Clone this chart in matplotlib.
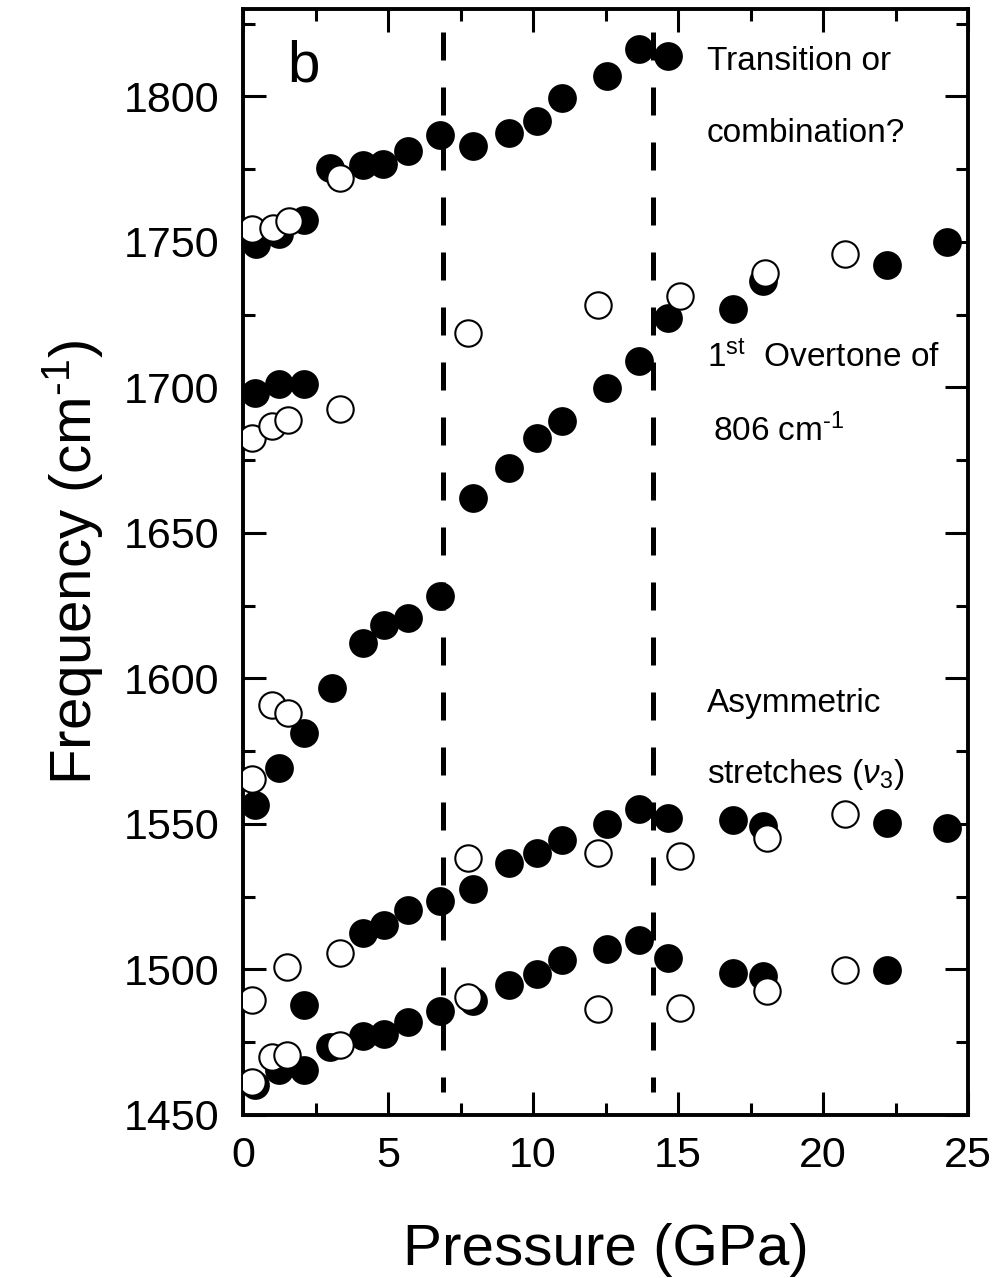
import matplotlib
matplotlib.use('Agg')
from matplotlib import pyplot as plt
from matplotlib.ticker import MultipleLocator

plt.rcParams['font.family'] = ['Liberation Sans', 'DejaVu Sans']
plt.rcParams['mathtext.fontset'] = 'custom'
plt.rcParams['mathtext.rm'] = 'Liberation Sans'
plt.rcParams['mathtext.it'] = 'Liberation Sans:italic'

# top band: "transition or combination?"
top_filled_p = [0.45, 1.25, 2.1, 3.0, 4.15, 4.84, 5.7, 6.79, 7.92, 9.18, 10.15, 10.99, 12.54, 13.67, 14.67]
top_filled_f = [1749.1, 1752.6, 1757.4, 1775.5, 1776.3, 1776.6, 1781.2, 1786.6, 1782.9, 1787.5, 1791.5, 1799.5, 1807.0, 1816.2, 1813.9]
top_open_p = [0.3, 1.02, 1.6, 3.34]
top_open_f = [1754.3, 1754.9, 1757.1, 1772.1]

# overtone of 806 cm-1
ot_filled_p = [0.41, 1.25, 2.1, 7.92, 9.18, 10.15, 10.99, 12.54, 13.67, 14.67, 16.91, 17.92, 22.2, 24.26]
ot_filled_f = [1698.1, 1701.0, 1701.0, 1662.0, 1672.4, 1682.7, 1688.4, 1699.9, 1709.0, 1723.9, 1726.8, 1736.5, 1742.2, 1749.9]
ot_open_p = [0.3, 0.99, 1.56, 3.34, 7.77, 12.25, 15.07, 18.0, 20.76]
ot_open_f = [1682.7, 1686.7, 1688.8, 1692.4, 1718.8, 1728.2, 1731.4, 1739.4, 1745.7]

# middle band (low pressure)
mid_filled_p = [0.41, 1.25, 2.1, 3.06, 4.15, 4.86, 5.7, 6.79]
mid_filled_f = [1556.6, 1569.3, 1581.3, 1596.7, 1612.2, 1618.5, 1620.8, 1628.2]
mid_open_p = [0.3, 0.99, 1.56]
mid_open_f = [1565.5, 1591.0, 1588.2]

# asymmetric stretches, upper branch
v3a_filled_p = [2.1, 4.15, 4.86, 5.7, 6.79, 7.92, 9.18, 10.15, 10.99, 12.54, 13.67, 14.67, 16.91, 17.92, 22.2, 24.26]
v3a_filled_f = [1487.9, 1512.5, 1515.4, 1520.3, 1523.4, 1527.6, 1536.6, 1540.0, 1544.6, 1550.0, 1555.1, 1552.0, 1551.5, 1549.2, 1550.3, 1548.6]
v3a_open_p = [0.3, 1.53, 3.34, 7.77, 12.25, 15.07, 18.06, 20.76]
v3a_open_f = [1489.6, 1501.0, 1505.6, 1538.3, 1540.0, 1539.1, 1545.2, 1553.4]

# asymmetric stretches, lower branch
v3b_filled_p = [0.41, 1.25, 2.1, 3.0, 4.15, 4.86, 5.7, 6.79, 7.94, 9.18, 10.15, 10.99, 12.54, 13.67, 14.67, 16.91, 17.92, 22.2]
v3b_filled_f = [1460.4, 1465.5, 1465.3, 1473.5, 1477.0, 1477.9, 1481.8, 1485.6, 1489.0, 1494.7, 1498.5, 1503.3, 1507.0, 1510.0, 1503.9, 1498.8, 1497.6, 1499.9]
v3b_open_p = [0.3, 0.99, 1.53, 3.34, 7.77, 12.25, 15.07, 18.06, 20.76]
v3b_open_f = [1461.2, 1469.9, 1470.7, 1474.1, 1490.7, 1486.4, 1486.7, 1492.5, 1499.7]

# phase transitions
transition_p = [6.9, 14.15]
dash_span = (1822, 1458)

filled = [(top_filled_p, top_filled_f), (ot_filled_p, ot_filled_f), (mid_filled_p, mid_filled_f),
          (v3a_filled_p, v3a_filled_f), (v3b_filled_p, v3b_filled_f)]
opened = [(top_open_p, top_open_f), (ot_open_p, ot_open_f), (mid_open_p, mid_open_f),
          (v3a_open_p, v3a_open_f), (v3b_open_p, v3b_open_f)]

fig = plt.figure(figsize=(9.96, 12.78), dpi=100)
ax = fig.add_axes([243 / 996, 163 / 1278, 725 / 996, 1106 / 1278])

for p in transition_p:
    ax.plot([p, p], dash_span, color='black', lw=3.6, dashes=(5.6, 5.4), zorder=1)

for p, f in filled:
    ax.plot(p, f, 'o', ms=19.5, mfc='black', mec='black', mew=1.2, ls='none', zorder=3)
for p, f in opened:
    ax.plot(p, f, 'o', ms=19, mfc='white', mec='black', mew=1.5, ls='none', zorder=4)

ax.set_xlim(0, 25)
ax.set_ylim(1450, 1830)
ax.xaxis.set_major_locator(MultipleLocator(5))
ax.xaxis.set_minor_locator(MultipleLocator(2.5))
ax.yaxis.set_major_locator(MultipleLocator(50))
ax.yaxis.set_minor_locator(MultipleLocator(25))

for s in ax.spines.values():
    s.set_linewidth(2.8)
ax.tick_params(which='both', direction='in', top=True, right=True, width=2.2)
ax.tick_params(which='major', length=16.5)
ax.tick_params(which='minor', length=8.5)
ax.tick_params(axis='x', labelsize=31, pad=15)
ax.tick_params(axis='y', labelsize=31, pad=17)

ax.set_xlabel('Pressure (GPa)', fontsize=42)
ax.set_ylabel('Frequency (cm$^{\\text{-1}}$)', fontsize=42)
ax.xaxis.set_label_coords(0.5, -0.098)
ax.yaxis.set_label_coords(-0.19, 0.5)

ax.text(0.061, 0.934, 'b', transform=ax.transAxes, fontsize=42, va='baseline')
ax.text(16.0, 1808.9, 'Transition or', fontsize=24, va='baseline')
ax.text(16.0, 1784.2, 'combination?', fontsize=24, va='baseline')
ax.text(16.0, 1706.8, '1$^{\\mathrm{st}}$  Overtone of', fontsize=24, va='baseline')
ax.text(16.2, 1681.4, '806 cm$^{\\text{-1}}$', fontsize=24, va='baseline')
ax.text(16.0, 1588.6, 'Asymmetric', fontsize=24, va='baseline')
ax.text(16.0, 1564.2, 'stretches ($\\nu_3$)', fontsize=24, va='baseline')

fig.savefig('out.png', dpi=100)
